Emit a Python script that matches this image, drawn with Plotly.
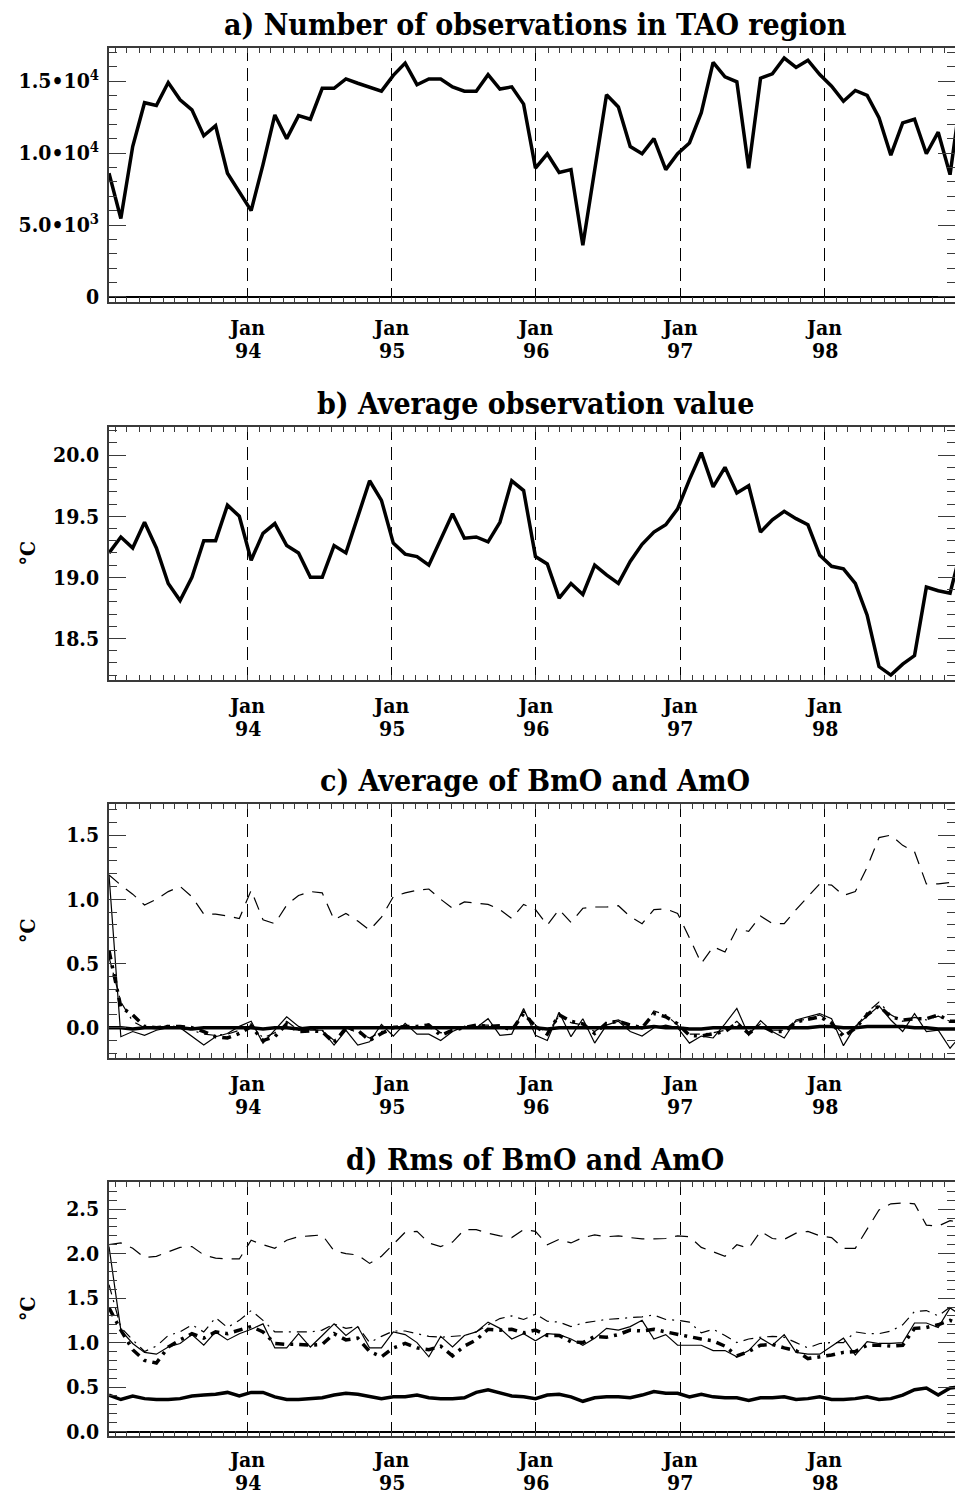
import pandas as pd
import plotly.graph_objects as go

# Monthly-ish samples (every 30 days) from mid-January 1993
dates = pd.date_range("1993-01-15", periods=73, freq="30D")

year_ticks = ["1994-01-01", "1995-01-01", "1996-01-01", "1997-01-01", "1998-01-01"]
month_labels = ["Jan", "Jan", "Jan", "Jan", "Jan"]
year_labels = ["94", "95", "96", "97", "98"]

# a) number of observations in the TAO region
n_obs = [8600, 5450, 10450, 13500, 13300, 14900, 13700, 13000, 11200, 11900,
         8600, 7300, 6000, 9200, 12650, 11000, 12600, 12350, 14500, 14500,
         15150, 14850, 14550, 14300, 15400, 16250, 14750, 15150, 15150, 14600,
         14300, 14300, 15450, 14450, 14600, 13400, 8950, 9950, 8650, 8850,
         3600, 8950, 14050, 13200, 10450, 9950, 11000, 8850, 9950, 10700,
         12800, 16300, 15300, 14950, 8950, 15200, 15500, 16600, 15950, 16450,
         15450, 14650, 13600, 14350, 14000, 12450, 9850, 12100, 12350, 9950,
         11450, 8500, 14500]

# b) average observation value (deg C)
avg_obs = [19.20, 19.33, 19.24, 19.45, 19.24, 18.95, 18.81, 19.00, 19.30, 19.30,
           19.59, 19.50, 19.14, 19.36, 19.44, 19.26, 19.20, 19.00, 19.00, 19.26,
           19.20, 19.50, 19.79, 19.63, 19.28, 19.19, 19.17, 19.10, 19.31, 19.52,
           19.32, 19.33, 19.29, 19.45, 19.79, 19.71, 19.17, 19.11, 18.83, 18.95,
           18.86, 19.10, 19.02, 18.95, 19.13, 19.27, 19.37, 19.43, 19.56, 19.80,
           20.02, 19.74, 19.90, 19.69, 19.75, 19.37, 19.47, 19.54, 19.48, 19.43,
           19.18, 19.09, 19.07, 18.95, 18.69, 18.27, 18.20, 18.29, 18.36, 18.92,
           18.89, 18.87, 19.25]

# c) averages of BmO and AmO
c_dashed = [1.19, 1.11, 1.04, 0.955, 1.00, 1.06, 1.10, 1.02, 0.885, 0.885,
            0.87, 0.85, 1.07, 0.84, 0.81, 0.955, 1.03, 1.06, 1.05, 0.84,
            0.89, 0.83, 0.76, 0.86, 1.02, 1.05, 1.07, 1.08, 1.00, 0.93,
            0.98, 0.97, 0.96, 0.92, 0.85, 0.96, 0.92, 0.80, 0.92, 0.82,
            0.93, 0.94, 0.94, 0.95, 0.865, 0.81, 0.92, 0.925, 0.89, 0.70,
            0.50, 0.63, 0.59, 0.77, 0.75, 0.87, 0.81, 0.81, 0.92, 1.02,
            1.12, 1.11, 1.03, 1.06, 1.25, 1.48, 1.50, 1.42, 1.37, 1.12,
            1.12, 1.13, 1.13]
c_thin = [1.19, -0.07, -0.03, -0.06, -0.02, 0.00, 0.00, -0.07, -0.135, -0.07,
          -0.045, 0.01, 0.05, -0.12, -0.02, 0.085, 0.01, -0.02, -0.02, -0.135,
          -0.02, -0.135, -0.11, 0.026, -0.065, 0.034, -0.05, -0.05, -0.10, -0.03,
          0.01, 0.00, 0.07, -0.06, -0.05, 0.15, -0.06, -0.10, 0.12, -0.07,
          0.07, -0.12, 0.02, 0.05, -0.03, -0.065, 0.00, 0.02, 0.00, -0.12,
          -0.065, -0.08, 0.03, 0.15, -0.06, 0.055, -0.03, -0.08, 0.06, 0.085,
          0.11, 0.07, -0.14, 0.01, 0.09, 0.17, 0.06, -0.03, 0.11, -0.03,
          -0.02, -0.16, -0.05]
c_dashdot = [0.55, 0.20, 0.05, 0.00, -0.01, 0.02, 0.00, -0.02, -0.05, -0.06,
             -0.05, -0.02, 0.03, -0.08, -0.04, 0.05, -0.02, -0.01, -0.02, -0.10,
             0.00, -0.04, -0.08, -0.03, 0.01, 0.02, 0.00, 0.03, -0.04, -0.02,
             0.01, 0.02, 0.02, 0.00, -0.01, 0.13, 0.02, -0.04, 0.09, 0.04,
             0.02, -0.03, 0.04, 0.06, 0.02, -0.01, 0.13, 0.10, 0.02, -0.05,
             -0.05, -0.04, -0.02, 0.05, -0.04, 0.03, -0.02, -0.02, 0.05, 0.07,
             0.10, 0.04, -0.05, 0.00, 0.12, 0.20, 0.10, 0.05, 0.08, 0.06,
             0.09, 0.05, 0.05]
c_heavy = [0.60, 0.16, 0.10, 0.01, 0.00, 0.01, 0.01, 0.00, -0.03, -0.07,
           -0.08, -0.045, 0.01, -0.10, -0.07, 0.03, -0.03, -0.025, -0.03, -0.12,
           0.00, -0.02, -0.10, -0.045, 0.00, 0.01, 0.01, 0.02, -0.06, -0.02,
           0.00, 0.02, 0.01, 0.015, -0.02, 0.11, 0.01, -0.05, 0.10, 0.05,
           0.03, -0.045, 0.035, 0.05, 0.02, 0.00, 0.11, 0.085, 0.03, -0.06,
           -0.065, -0.045, -0.03, 0.035, -0.045, 0.02, -0.03, -0.03, 0.045, 0.065,
           0.085, 0.035, -0.07, -0.005, 0.10, 0.17, 0.085, 0.06, 0.07, 0.07,
           0.10, 0.05, 0.05]
c_thick = [0.00, 0.00, -0.01, 0.00, 0.00, 0.00, 0.00, -0.01, 0.00, 0.00,
           0.00, 0.00, 0.00, -0.01, 0.00, 0.00, -0.01, 0.00, 0.00, 0.00,
           0.00, 0.00, 0.00, 0.00, 0.00, 0.00, 0.00, 0.00, 0.00, 0.00,
           0.00, 0.00, 0.00, 0.00, 0.00, 0.00, 0.00, -0.01, 0.00, 0.00,
           0.00, 0.00, 0.00, 0.00, 0.00, 0.00, 0.01, 0.00, 0.00, -0.01,
           -0.01, 0.00, 0.00, 0.00, 0.00, 0.00, 0.00, 0.00, 0.00, 0.00,
           0.01, 0.01, 0.00, 0.00, 0.01, 0.01, 0.01, 0.01, 0.00, 0.00,
           -0.01, -0.01, -0.01]

# d) rms of BmO and AmO
d_dashed = [2.10, 2.12, 2.06, 1.955, 1.97, 2.02, 2.07, 2.08, 1.985, 1.95,
            1.94, 1.94, 2.15, 2.10, 2.06, 2.15, 2.19, 2.20, 2.21, 2.03,
            2.00, 1.985, 1.89, 1.97, 2.10, 2.24, 2.25, 2.12, 2.08, 2.13,
            2.27, 2.27, 2.23, 2.20, 2.18, 2.27, 2.25, 2.10, 2.16, 2.12,
            2.18, 2.21, 2.19, 2.20, 2.18, 2.165, 2.165, 2.17, 2.20, 2.19,
            2.07, 2.02, 1.97, 2.10, 2.06, 2.25, 2.17, 2.16, 2.23, 2.25,
            2.20, 2.18, 2.06, 2.06, 2.27, 2.49, 2.56, 2.57, 2.56, 2.32,
            2.31, 2.37, 2.35]
d_thin = [2.08, 1.14, 0.99, 0.89, 0.87, 0.95, 0.99, 1.09, 0.97, 1.12,
          1.03, 1.10, 1.15, 1.21, 0.94, 0.94, 1.10, 0.95, 1.08, 1.21,
          1.08, 1.18, 0.94, 0.94, 1.12, 1.09, 1.00, 0.84, 1.07, 0.95,
          1.08, 1.12, 1.23, 1.16, 1.04, 1.10, 1.02, 1.10, 1.09, 1.04,
          0.97, 1.05, 1.16, 1.14, 1.18, 1.25, 1.04, 1.09, 0.97, 0.97,
          0.97, 0.91, 0.91, 0.84, 0.91, 1.05, 0.97, 1.09, 0.89, 0.87,
          0.87, 0.96, 1.05, 0.86, 1.01, 0.99, 0.99, 1.00, 1.22, 1.22,
          1.17, 1.39, 1.30]
d_dashdot = [1.65, 1.17, 1.03, 0.90, 0.96, 1.08, 1.12, 1.20, 1.12, 1.28,
             1.17, 1.25, 1.36, 1.25, 1.12, 1.12, 1.12, 1.12, 1.14, 1.21,
             1.16, 1.18, 1.00, 1.07, 1.13, 1.13, 1.10, 1.07, 1.06, 1.07,
             1.08, 1.12, 1.20, 1.27, 1.30, 1.26, 1.32, 1.24, 1.23, 1.18,
             1.22, 1.24, 1.26, 1.27, 1.28, 1.29, 1.31, 1.26, 1.25, 1.23,
             1.11, 1.15, 1.08, 1.00, 1.04, 1.06, 1.07, 1.06, 1.00, 0.94,
             0.99, 1.00, 1.00, 1.12, 1.10, 1.10, 1.13, 1.20, 1.35, 1.36,
             1.30, 1.40, 1.35]
d_heavy = [1.39, 1.14, 0.92, 0.80, 0.77, 0.95, 1.03, 1.10, 1.05, 1.12,
           1.10, 1.14, 1.18, 1.12, 0.99, 0.98, 0.98, 0.97, 0.98, 1.10,
           1.03, 1.05, 0.90, 0.84, 0.94, 0.99, 0.94, 0.92, 0.96, 0.85,
           0.96, 1.03, 1.15, 1.14, 1.15, 1.11, 1.14, 1.08, 1.08, 1.01,
           1.00, 1.07, 1.06, 1.09, 1.14, 1.13, 1.15, 1.12, 1.09, 1.07,
           1.04, 1.02, 0.96, 0.85, 0.90, 0.97, 0.98, 0.94, 0.91, 0.82,
           0.84, 0.86, 0.89, 0.90, 0.97, 0.97, 0.96, 0.97, 1.16, 1.17,
           1.20, 1.25, 1.20]
d_thick = [0.41, 0.36, 0.40, 0.37, 0.36, 0.36, 0.37, 0.40, 0.41, 0.42,
           0.44, 0.40, 0.44, 0.44, 0.39, 0.36, 0.36, 0.37, 0.38, 0.41,
           0.43, 0.42, 0.39, 0.37, 0.39, 0.39, 0.41, 0.38, 0.37, 0.37,
           0.38, 0.44, 0.47, 0.43, 0.40, 0.39, 0.37, 0.41, 0.42, 0.39,
           0.34, 0.38, 0.39, 0.39, 0.38, 0.41, 0.45, 0.43, 0.43, 0.39,
           0.42, 0.39, 0.38, 0.38, 0.35, 0.38, 0.38, 0.39, 0.36, 0.37,
           0.39, 0.36, 0.36, 0.37, 0.39, 0.36, 0.37, 0.41, 0.47, 0.49,
           0.41, 0.49, 0.50]

titles = ["a) Number of observations in TAO region",
          "b) Average observation value",
          "c) Average of BmO and AmO",
          "d) Rms of BmO and AmO"]

W, H = 955, 1495
LEFT = 109
FONT = "DejaVu Serif Condensed, DejaVu Serif, serif"
INK = "black"
FRAME = "#3a3a3a"

# panel frames in pixels (top, bottom)
frames = [(48, 302), (427, 680), (804, 1058), (1182, 1436)]
title_mid = [25, 403, 780, 1159]
# gap between frame and the "Jan" labels, and offset of the year row below it
jan_standoff = [6, 6, 6, 4]
year_offset = [48.5, 48.5, 48.5, 46]

x_range = ["1993-01-15", "1998-11-27 12:00"]

fig = go.Figure()

def add(i, y, width, dash="solid"):
    fig.add_trace(go.Scatter(
        x=dates, y=y, mode="lines",
        xaxis="x" if i == 1 else f"x{i}",
        yaxis="y" if i == 1 else f"y{i}",
        line=dict(color=INK, width=width, dash=dash),
        showlegend=False, hoverinfo="skip"))

add(1, n_obs, 3.5)
add(2, avg_obs, 3.5)
add(3, c_dashed, 1.2, "13px,9px")
add(3, c_thin, 1.2)
add(3, c_dashdot, 1.2, "10px,6px,2px,6px")
add(3, c_heavy, 3.5, "9px,6px,3px,6px")
add(3, c_thick, 3.5)
add(4, d_dashed, 1.2, "13px,9px")
add(4, d_thin, 1.2)
add(4, d_dashdot, 1.2, "10px,6px,2px,6px")
add(4, d_heavy, 3.5, "9px,6px,3px,6px")
add(4, d_thick, 3.5)

yspecs = [
    dict(range=[-350, 17300], tickvals=[0, 5000, 10000, 15000],
         ticktext=["0", "5.0\u202210<sup>3</sup>", "1.0\u202210<sup>4</sup>",
                   "1.5\u202210<sup>4</sup>"],
         minor_dtick=1000, minor_tick0=0, zeroline=True),
    dict(range=[18.16, 20.23], tickvals=[18.5, 19.0, 19.5, 20.0],
         ticktext=["18.5", "19.0", "19.5", "20.0"],
         minor_dtick=0.1, minor_tick0=18.0, zeroline=False),
    dict(range=[-0.236, 1.742], tickvals=[0.0, 0.5, 1.0, 1.5],
         ticktext=["0.0", "0.5", "1.0", "1.5"],
         minor_dtick=0.1, minor_tick0=0.0, zeroline=False),
    dict(range=[-0.05, 2.805], tickvals=[0.0, 0.5, 1.0, 1.5, 2.0, 2.5],
         ticktext=["0.0", "0.5", "1.0", "1.5", "2.0", "2.5"],
         minor_dtick=0.1, minor_tick0=0.0, zeroline=True),
]

TICKFONT = dict(family=FONT, size=21, color=INK, weight="bold")

layout = dict(
    width=W, height=H,
    margin=dict(l=LEFT, r=0, t=0, b=0),
    paper_bgcolor="white", plot_bgcolor="white",
    font=dict(family=FONT, color=INK, size=21),
    showlegend=False,
)

annotations = []
for i, ((top, bot), spec) in enumerate(zip(frames, yspecs), start=1):
    dom = [1 - bot / H, 1 - top / H]
    xn = "xaxis" if i == 1 else f"xaxis{i}"
    yn = "yaxis" if i == 1 else f"yaxis{i}"
    xref = "x" if i == 1 else f"x{i}"
    layout[xn] = dict(
        type="date", range=x_range, domain=[0, 1],
        anchor="y" if i == 1 else f"y{i}",
        tickmode="array", tickvals=year_ticks, ticktext=month_labels,
        ticks="inside", ticklen=5, tickwidth=1, tickcolor=FRAME,
        showline=True, linecolor=FRAME, linewidth=1.5, mirror="ticks",
        showgrid=True, gridcolor=INK, gridwidth=1, griddash="13px,7px",
        zeroline=False, automargin=False,
        tickfont=TICKFONT,
        ticklabelstandoff=jan_standoff[i - 1],
        minor=dict(ticks="inside", ticklen=5, tickwidth=1, tickcolor=FRAME,
                   tickmode="linear", tick0="1993-01-01", dtick="M1",
                   showgrid=False),
    )
    layout[yn] = dict(
        range=spec["range"], domain=dom,
        anchor="x" if i == 1 else f"x{i}",
        tickmode="array", tickvals=spec["tickvals"], ticktext=spec["ticktext"],
        ticks="inside", ticklen=17, tickwidth=1, tickcolor=FRAME,
        showline=True, linecolor=FRAME, linewidth=1.5, mirror="ticks",
        showgrid=False,
        zeroline=spec["zeroline"], zerolinecolor=INK, zerolinewidth=1.5,
        automargin=False,
        tickfont=TICKFONT,
        ticklabelstandoff=4,
        minor=dict(ticks="inside", ticklen=8, tickwidth=1, tickcolor=FRAME,
                   tickmode="linear", tick0=spec["minor_tick0"],
                   dtick=spec["minor_dtick"], showgrid=False),
    )
    # two-digit year under each "Jan" tick label
    for tv, yl in zip(year_ticks, year_labels):
        annotations.append(dict(
            text=yl, xref=xref, yref="paper", x=tv,
            y=1 - (bot + year_offset[i - 1]) / H,
            xanchor="center", yanchor="middle", showarrow=False,
            font=TICKFONT))
    annotations.append(dict(
        text=titles[i - 1], xref="paper", yref="paper",
        x=(535 - LEFT) / (W - LEFT), y=1 - title_mid[i - 1] / H,
        xanchor="center", yanchor="middle", showarrow=False,
        font=dict(family=FONT, size=30, color=INK, weight="bold")))
    if i > 1:
        annotations.append(dict(
            text="\u00b0C", xref="paper", yref="paper",
            x=(27 - LEFT) / (W - LEFT), y=1 - (top + bot) / 2 / H,
            xanchor="center", yanchor="middle", textangle=-90,
            showarrow=False, font=TICKFONT))

layout["annotations"] = annotations
fig.update_layout(**layout)

fig.write_html("out.html")
